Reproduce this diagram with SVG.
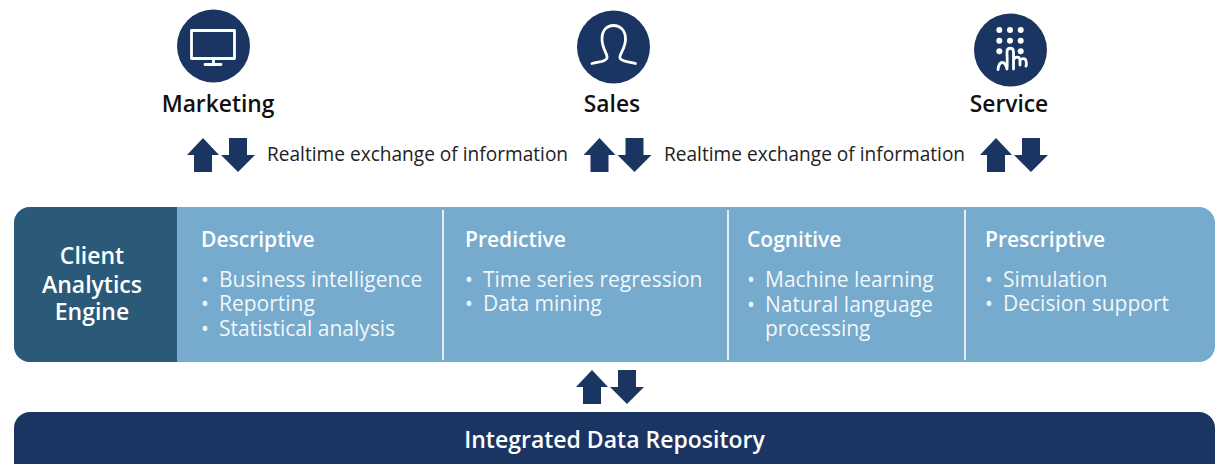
<svg xmlns="http://www.w3.org/2000/svg" width="1219" height="464" viewBox="0 0 1219 464">
<style>
text{font-family:"Open Sans","Noto Sans",sans-serif}
.t{font-size:22.8px;font-weight:600;fill:#111;text-anchor:middle}
.x{font-size:19.1px;fill:#222}
.h{font-size:21px;font-weight:600;fill:#fff}
.b{font-size:21px;fill:#fff;fill-opacity:.92}
.c{font-size:23px;font-weight:600;fill:#fff;text-anchor:middle}
.i{fill:none;stroke:#fff;stroke-width:2.8;stroke-linecap:round;stroke-linejoin:round}
.a{fill:#1b3563}
.d{fill:#fff}
</style>
<defs>
<g id="arrows"><path class="a" d="M16 0L32 17H25V34H7V17H0Z"/><path class="a" d="M42 0H60V17H68L51 34L34 17H42Z"/></g>
</defs>
<g id="marketing">
<circle cx="213.500" cy="46" r="36.500" fill="#1b3563"/>
<path class="i" d="M191.500 30.500H234.500V58.500H191.500ZM213.500 59V64M205 64.500H221"/>
<text class="t" x="218" y="111.500">Marketing</text>
</g>
<g id="sales">
<circle cx="613.500" cy="47" r="36.500" fill="#1b3563"/>
<path class="i" d="M592 63.500C598 61.500 606 62 607 58C608 54 602 49 602 39C602 30 607 25.500 613.500 25.500C620 25.500 625.500 30 625.500 39C625.500 49 619 54 620 58C621 62 630 61.500 635.500 63.500"/>
<text class="t" x="612" y="111.500">Sales</text>
</g>
<g id="service">
<circle cx="1010.500" cy="50" r="36.500" fill="#1b3563"/>
<g class="d"><circle cx="999.300" cy="30" r="3"/><circle cx="1010" cy="30" r="3"/><circle cx="1020.700" cy="30" r="3"/><circle cx="999.300" cy="40.700" r="3"/><circle cx="1010" cy="40.700" r="3"/><circle cx="1020.700" cy="40.700" r="3"/><circle cx="999.300" cy="51.300" r="3"/><circle cx="1020.700" cy="51.300" r="3"/></g>
<path class="i" d="M998 69.500C998.500 65 1000 62.500 1002.500 62.500C1005.500 62.500 1006 66 1007 69C1007.500 62 1007 55 1007 52C1007 47 1013.500 47 1013.500 52V69M1013.500 60C1015 56.500 1019.500 56 1020 60V65M1020 60.500C1021.500 58 1025.500 58 1026 61C1026.500 63 1026.500 65 1026 66"/>
<text class="t" x="1009" y="111.500">Service</text>
</g>
<g id="connectors">
<use href="#arrows" x="187" y="138"/>
<use href="#arrows" x="583.500" y="138"/>
<use href="#arrows" x="980" y="138"/>
<use href="#arrows" x="576" y="370"/>
</g>
<g id="exchange-labels">
<text class="x" x="267" y="161">Realtime exchange of information</text>
<text class="x" x="664" y="161">Realtime exchange of information</text>
</g>
<g id="engine">
<rect x="14" y="207" width="1201" height="155" rx="16" fill="#77abcd"/>
<path d="M177 207H30A16 16 0 0 0 14 223V346A16 16 0 0 0 30 362H177Z" fill="#2b5a78"/>
<text class="c"><tspan x="92" y="264">Client</tspan><tspan x="92" y="293">Analytics</tspan><tspan x="92" y="320">Engine</tspan></text>
</g>
<g id="dividers" stroke="#e4edf4" stroke-width="2">
<path d="M443 210V360M728 210V360M965 210V360"/>
</g>
<g id="descriptive">
<text class="h" x="201" y="247">Descriptive</text>
<text class="b"><tspan x="201" y="286.500">•</tspan><tspan x="219" y="286.500">Business intelligence</tspan><tspan x="201" y="310.500">•</tspan><tspan x="219" y="310.500">Reporting</tspan><tspan x="201" y="335.500">•</tspan><tspan x="219" y="335.500">Statistical analysis</tspan></text>
</g>
<g id="predictive">
<text class="h" x="465" y="247">Predictive</text>
<text class="b"><tspan x="465" y="286.500">•</tspan><tspan x="483" y="286.500">Time series regression</tspan><tspan x="465" y="310.500">•</tspan><tspan x="483" y="310.500">Data mining</tspan></text>
</g>
<g id="cognitive">
<text class="h" x="747" y="247">Cognitive</text>
<text class="b"><tspan x="747" y="286.500">•</tspan><tspan x="765" y="286.500">Machine learning</tspan><tspan x="747" y="311.500">•</tspan><tspan x="765" y="311.500">Natural language</tspan><tspan x="765" y="335.500">processing</tspan></text>
</g>
<g id="prescriptive">
<text class="h" x="985" y="247">Prescriptive</text>
<text class="b"><tspan x="985" y="286.500">•</tspan><tspan x="1003" y="286.500">Simulation</tspan><tspan x="985" y="310.500">•</tspan><tspan x="1003" y="310.500">Decision support</tspan></text>
</g>
<g id="repository">
<path d="M14 464V428A16 16 0 0 1 30 412H1199A16 16 0 0 1 1215 428V464Z" fill="#1b3563"/>
<text class="c" x="614.500" y="448">Integrated Data Repository</text>
</g>
</svg>
